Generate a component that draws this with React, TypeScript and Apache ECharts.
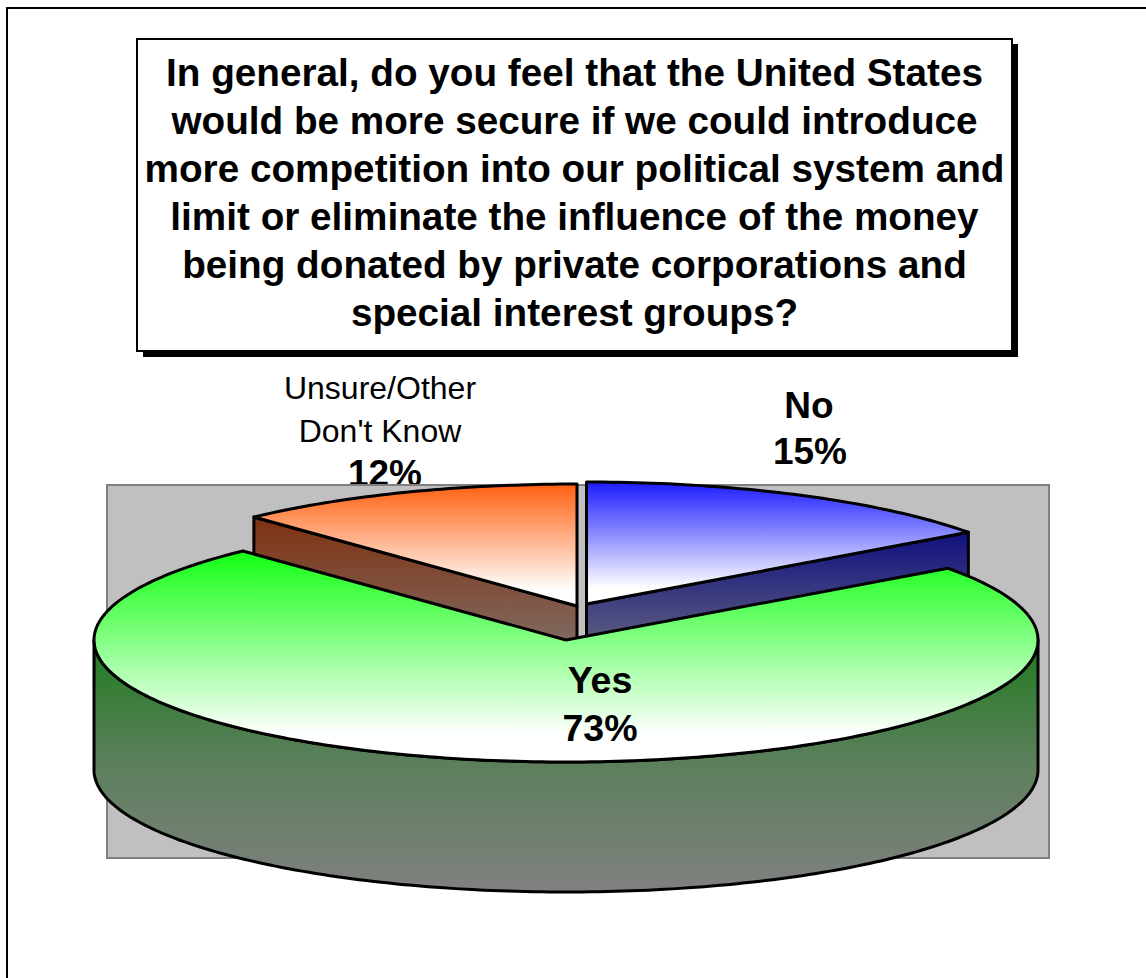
import React, { useEffect, useRef } from "react";
import * as echarts from "echarts";

const categories = ["No", "Yes", "Unsure/Other Don't Know"];
const shares = [15, 73, 12];
const titleLines = [
  "In general, do you feel that the United States",
  "would be more secure if we could introduce",
  "more competition into our political system and",
  "limit or eliminate the influence of the money",
  "being donated by private corporations and",
  "special interest groups?",
];

const RX = 472;
const RY = 122;
const DEPTH = 130;
const apexes = [[586.5, 604], [566, 640], [577, 606]];
const drawOrder = [0, 2, 1];
const topColors = ["#1c1cff", "#12ff12", "#ff6010"];
const sideColors = ["#101080", "#1f7c1f", "#7f3010"];
const GREY = "#808080";

const grad = (stops: [number, string][]) => ({
  type: "linear", x: 0, y: 0, x2: 0, y2: 1,
  colorStops: stops.map(([offset, color]) => ({ offset, color })),
});
const LINE = { stroke: "#000", lineWidth: 3, lineJoin: "round" as const };

function slice(i: number) {
  const total = shares.reduce((s, v) => s + v, 0);
  const before = shares.slice(0, i).reduce((s, v) => s + v, 0);
  return { a0: (before / total) * 360, a1: ((before + shares[i]) / total) * 360 };
}

function pt(c: number[], deg: number, dy = 0): number[] {
  const r = (deg * Math.PI) / 180;
  return [c[0] + RX * Math.sin(r), c[1] - RY * Math.cos(r) + dy];
}

function arc(c: number[], from: number, to: number, dy = 0): number[][] {
  const out: number[][] = [];
  const n = Math.max(2, Math.ceil(Math.abs(to - from)));
  for (let k = 0; k <= n; k++) out.push(pt(c, from + ((to - from) * k) / n, dy));
  return out;
}

function renderSlice(params: any, api: any) {
  const i = drawOrder[params.dataIndex];
  api.value(0);
  const { a0, a1 } = slice(i);
  const c = apexes[i];
  const children: any[] = [];
  const vis0 = Math.max(a0, 90);
  const vis1 = Math.min(a1, 270);
  if (vis1 > vis0) {
    const top = arc(c, vis0, vis1);
    const bot = arc(c, vis1, vis0, DEPTH);
    children.push({
      type: "polygon",
      shape: { points: [...top, ...bot] },
      style: { fill: grad([[0, sideColors[i]], [0.476, "#5b7f5b"], [1, GREY]]), ...LINE },
    });
  }
  const wallAngle = i === 0 ? a1 : i === 2 ? a0 : -1;
  if (wallAngle >= 0) {
    const e = pt(c, wallAngle);
    children.push({
      type: "polygon",
      shape: { points: [c, e, [e[0], e[1] + DEPTH], [c[0], c[1] + DEPTH]] },
      style: { fill: grad([[0, sideColors[i]], [0.8, GREY], [1, GREY]]), ...LINE },
    });
  }
  children.push({
    type: "polygon",
    shape: { points: [c, ...arc(c, a0, a1)] },
    style: { fill: grad([[0, topColors[i]], [0.87, "#ffffff"], [1, "#ffffff"]]), ...LINE },
  });
  return { type: "group", children };
}

const label = (text: string, x: number, y: number, size: number, bold: boolean, z: number) => ({
  type: "text",
  z,
  style: {
    text, x, y,
    fill: "#000",
    font: `${bold ? "bold " : ""}${size}px "Liberation Sans", Arial, sans-serif`,
    textAlign: "center",
    textVerticalAlign: "middle",
  },
});

export default function App() {
  const ref = useRef<HTMLDivElement>(null);
  useEffect(() => {
    const chart = echarts.init(ref.current!, undefined, { renderer: "svg" });
    chart.setOption({
      animation: false,
      backgroundColor: "#fff",
      graphic: [
        { type: "rect", z: 1, shape: { x: 7, y: 8, width: 1300, height: 1100 }, style: { fill: "#fff", stroke: "#000", lineWidth: 2 } },
        { type: "rect", z: 1, shape: { x: 143, y: 44, width: 875, height: 313 }, style: { fill: "#000" } },
        { type: "rect", z: 1, shape: { x: 137, y: 39, width: 875, height: 312 }, style: { fill: "#fff", stroke: "#000", lineWidth: 2 } },
        ...titleLines.map((t, k) => label(t, 574.5, 72.5 + k * 48, 38.7, true, 1)),
        label("Unsure/Other", 380, 388, 32, false, 1),
        label("Don't Know", 380, 431, 32, false, 1),
        label(`${shares[2]}%`, 385, 473, 37, true, 1),
        { type: "rect", z: 1, shape: { x: 107, y: 485, width: 942, height: 373 }, style: { fill: "#c0c0c0", stroke: GREY, lineWidth: 2 } },
        label(categories[0], 809, 405, 37, true, 50),
        label(`${shares[0]}%`, 810, 451, 37, true, 50),
        label(categories[1], 600, 680, 37.5, true, 50),
        label(`${shares[1]}%`, 600, 728, 37.5, true, 50),
      ],
      series: [
        {
          type: "custom",
          coordinateSystem: "none",
          clip: false,
          z: 10,
          data: drawOrder.map((i) => shares[i]),
          renderItem: renderSlice,
        },
      ],
    });
    return () => chart.dispose();
  }, []);
  return <div ref={ref} style={{ position: "absolute", left: 0, top: 0, width: 1146, height: 978 }} />;
}
